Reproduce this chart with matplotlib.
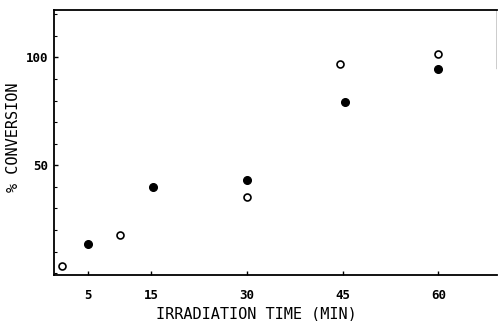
import matplotlib.pyplot as plt

# open circles
t_open = [1, 10, 30, 44.6, 60]
conv_open = [3.4, 17.5, 35.3, 96.8, 101.7]
# filled circles
t_filled = [5, 15.2, 30, 45.3, 60]
conv_filled = [13.7, 40, 43.4, 79.3, 94.8]

xticks = [5, 15, 30, 45, 60]
yticks = [50, 100]

plt.rcParams['font.family'] = 'DejaVu Sans Mono'

fig = plt.figure(figsize=(4.99, 3.21), dpi=100)
ax = fig.add_axes([0.108, 0.143, 0.888, 0.826])

ax.plot(t_filled, conv_filled, 'o', color='black', markersize=5.5)
ax.plot(t_open, conv_open, 'o', markerfacecolor='white', markeredgecolor='black',
        markersize=5, markeredgewidth=1.2)

ax.set_xlim(-0.3, 69.2)
ax.set_ylim(-0.9, 122)
ax.set_xticks(xticks)
ax.set_xticklabels([str(v) for v in xticks], fontsize=9, fontweight='bold')
ax.set_yticks(yticks)
ax.set_yticklabels([str(v) for v in yticks], fontsize=9, fontweight='bold')
ax.set_yticks(range(0, 121, 10), minor=True)
ax.tick_params(axis='both', which='major', direction='in', length=3, width=1)
ax.tick_params(axis='y', which='minor', direction='in', length=2, width=0.8)
ax.tick_params(axis='x', pad=10)
ax.tick_params(axis='y', pad=4)

for s in ['left', 'bottom', 'top']:
    ax.spines[s].set_linewidth(1.3)
ax.spines['right'].set_visible(False)
ax.axvline(69.2, ymin=0.78, ymax=1, color='black', linewidth=1)

ax.set_xlabel('IRRADIATION TIME (MIN)', fontsize=11)
ax.xaxis.set_label_coords(0.456, -0.12)
ax.set_ylabel('% CONVERSION', fontsize=11)
ax.yaxis.set_label_coords(-0.075, 0.52)

fig.savefig('out.png', dpi=100)
